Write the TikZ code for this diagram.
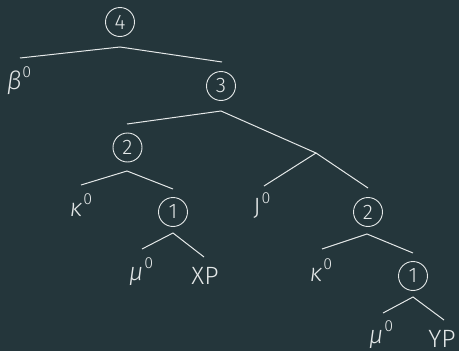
\documentclass[tikz,border=0pt]{standalone}
\usepackage{fontspec}
\setmainfont{Fira Sans Light}[ItalicFont={Fira Sans Light Italic}, BoldFont={Fira Sans}]
\definecolor{bg}{HTML}{24363B}
\definecolor{fg}{HTML}{E4E8E8}
\newcommand\supzero{\kern1pt\raisebox{12pt}{\fontsize{16}{18}\selectfont 0}}
\newcommand\gr[1]{{\itshape #1}\supzero}
\begin{document}
\begin{tikzpicture}[x=1pt,y=-1pt,
  num/.style={circle, draw=fg, line width=0.9pt, minimum size=29pt, inner sep=0pt, text=fg, font=\fontsize{21}{24}\selectfont},
  lab/.style={text=fg, font=\fontsize{25}{28}\selectfont, inner sep=0pt},
  br/.style={draw=fg, line width=1pt}]
\fill[bg] (0,0) rectangle (459,351);
\useasboundingbox (0,0) rectangle (459,351);
% circled nodes
\node[num] (n4) at (120,22) {4};
\node[num] (n3) at (221,86) {3};
\node[num] (n2a) at (127.5,147.5) {2};
\node[num] (n1a) at (173,212) {1};
\node[num] (n2b) at (368,212) {2};
\node[num] (n1b) at (413,276) {1};
% leaf labels
\node[lab] (beta) at (19,81) {\gr{β}};
\node[lab] (ka) at (81,205) {\gr{κ}};
\node[lab] (mua) at (141,272) {\gr{μ}};
\node[lab] (xp) at (205,276) {XP};
\node[lab] (j0) at (262,206) {J\supzero};
\node[lab] (kb) at (321,270) {\gr{κ}};
\node[lab] (mub) at (381,335) {\gr{μ}};
\node[lab] (yp) at (442,339) {YP};
% branch coordinates
\coordinate (a4) at (120,47);
\coordinate (ebeta) at (20,58);
\coordinate (e3) at (222,62);
\coordinate (a3) at (221,111);
\coordinate (e2a) at (127,124);
\coordinate (jn) at (316,153);
\coordinate (ej0) at (264,186);
\coordinate (e2b) at (368,188);
\coordinate (a2a) at (127,171);
\coordinate (eka) at (81,185);
\coordinate (e1a) at (173,189);
\coordinate (a1a) at (173,233);
\coordinate (emua) at (142,249);
\coordinate (exp) at (204,257);
\coordinate (a2b) at (367,234);
\coordinate (ekb) at (322,249);
\coordinate (e1b) at (413,253);
\coordinate (a1b) at (413,297);
\coordinate (emub) at (383,313);
\coordinate (eyp) at (444,320);
% branches
\draw[br] (ebeta) -- (a4) -- (e3);
\draw[br] (e2a) -- (a3) -- (jn);
\draw[br] (ej0) -- (jn) -- (e2b);
\draw[br] (eka) -- (a2a) -- (e1a);
\draw[br] (emua) -- (a1a) -- (exp);
\draw[br] (ekb) -- (a2b) -- (e1b);
\draw[br] (emub) -- (a1b) -- (eyp);
\end{tikzpicture}
\end{document}
